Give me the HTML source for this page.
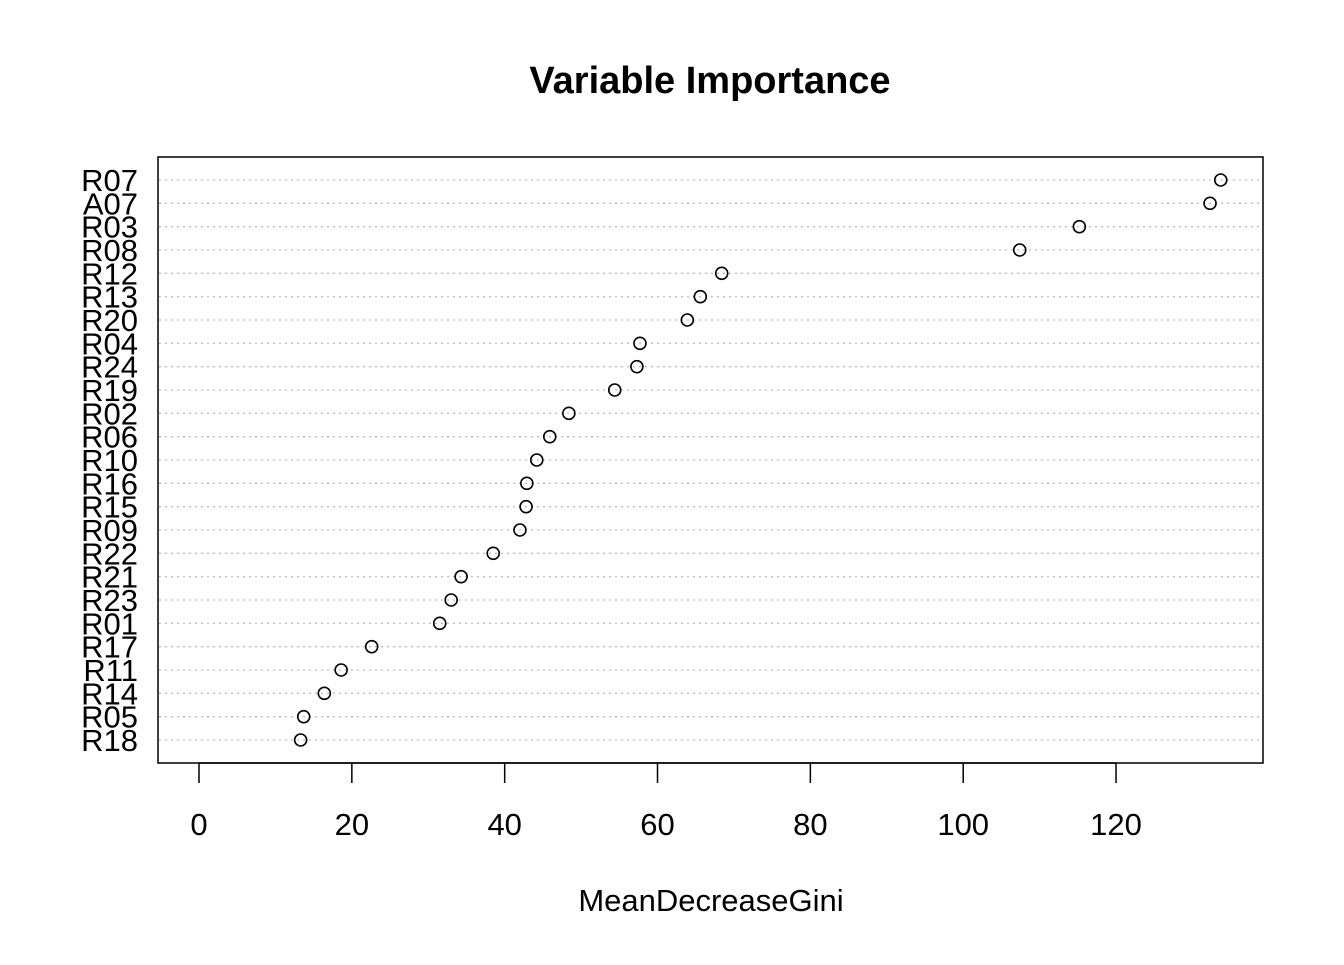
<!DOCTYPE html>
<html><head><meta charset="utf-8"><style>
html,body{margin:0;padding:0;background:#fff;}
svg text{font-family:"Liberation Sans",Arial,sans-serif;}
</style></head><body>
<svg id="chart" width="1344" height="960" xmlns="http://www.w3.org/2000/svg">
<rect width="1344" height="960" fill="#fff"/>
<text x="710" y="93" text-anchor="middle" font-size="38" font-weight="bold">Variable Importance</text>
<rect x="158" y="157" width="1105" height="606" fill="none" stroke="#000" stroke-width="1.5"/>
<text x="711" y="911" text-anchor="middle" font-size="31">MeanDecreaseGini</text>
<g id="grid"></g><g id="pts"></g><g id="ylab"></g><g id="xaxis"></g>
</svg>
<script>
const categories=["R07","A07","R03","R08","R12","R13","R20","R04","R24","R19","R02","R06","R10","R16","R15","R09","R22","R21","R23","R01","R17","R11","R14","R05","R18"];
const values=[133.7,132.3,115.2,107.4,68.4,65.6,63.9,57.7,57.3,54.4,48.4,45.9,44.2,42.9,42.8,42.0,38.5,34.3,33.0,31.5,22.6,18.6,16.4,13.7,13.3];
const xTicks=[0,20,40,60,80,100,120];
const NS="http://www.w3.org/2000/svg";
const xs=v=>199+v*7.642;
const ys=i=>180+i*(560/(categories.length-1));
function mk(t,a,p){const e=document.createElementNS(NS,t);for(const k in a)e.setAttribute(k,a[k]);p.appendChild(e);return e;}
const G=document.getElementById('grid'),P=document.getElementById('pts'),Y=document.getElementById('ylab'),X=document.getElementById('xaxis');
categories.forEach((c,i)=>{
  const y=ys(i);
  const l=mk('line',{x1:159,x2:1262,y1:y,y2:y,stroke:'#bebebe','stroke-width':1.3,'stroke-dasharray':'2,4'},G);
  
  
  const p=mk('circle',{cx:xs(values[i]),cy:y,r:6,fill:'none',stroke:'#000','stroke-width':1.6},P);
  
  
  const t=mk('text',{x:138,y:y+11,'text-anchor':'end','font-size':31},Y);
  t.textContent=c;
  
  
});
xTicks.forEach(v=>{
  const x=xs(v);
  const tk=mk('line',{x1:x,x2:x,y1:763,y2:783,stroke:'#000','stroke-width':1.5},X);
  
  
  const t=mk('text',{x:x,y:835,'text-anchor':'middle','font-size':31},X);
  t.textContent=v;
  
  
});
const ax=mk('line',{x1:xs(xTicks[0]),x2:xs(xTicks[xTicks.length-1]),y1:763,y2:763,stroke:'#000','stroke-width':1.5},X);


</script>
</body></html>
